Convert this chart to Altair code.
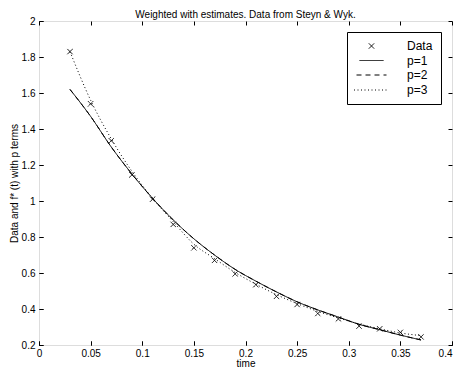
import altair as alt
import pandas as pd

t = [0.03, 0.05, 0.07, 0.09, 0.11, 0.13, 0.15, 0.17, 0.19, 0.21, 0.23, 0.25, 0.27, 0.29, 0.31, 0.33, 0.35, 0.37]
data_y = [1.83, 1.54, 1.335, 1.145, 1.01, 0.87, 0.74, 0.67, 0.595, 0.535, 0.47, 0.425, 0.375, 0.345, 0.305, 0.29, 0.27, 0.245]
p1 = [1.62, 1.47, 1.30, 1.15, 1.015, 0.895, 0.79, 0.70, 0.62, 0.555, 0.495, 0.44, 0.395, 0.355, 0.315, 0.285, 0.255, 0.228]
p2 = p1
p3 = [1.83, 1.56, 1.345, 1.165, 1.015, 0.885, 0.76, 0.68, 0.603, 0.538, 0.48, 0.43, 0.387, 0.35, 0.317, 0.29, 0.267, 0.252]

series_names = ["Data", "p=1", "p=2", "p=3"]
x_ticks = [0, 0.05, 0.1, 0.15, 0.2, 0.25, 0.3, 0.35, 0.4]
y_ticks = [0.2, 0.4, 0.6, 0.8, 1.0, 1.2, 1.4, 1.6, 1.8, 2.0]

rows = []
for name, vals in zip(series_names, [data_y, p1, p2, p3]):
    for ti, v in zip(t, vals):
        rows.append({"t": ti, "v": v, "series": name})
df = pd.DataFrame(rows)

W, H = 413, 324
FONT = "Liberation Sans"

xscale = alt.Scale(domain=[0, 0.4], nice=False, zero=False)
yscale = alt.Scale(domain=[0.2, 2.0], nice=False, zero=False)

dash_scale = alt.Scale(domain=series_names, range=[[1, 0], [1, 0], [5, 4], [1, 2.5]])
shape_scale = alt.Scale(domain=series_names,
                        range=["M-1,-1L1,1M-1,1L1,-1", "M-3,0L3,0", "M-3,0L3,0", "M-3,0L3,0"])
size_scale = alt.Scale(domain=series_names, range=[28, 136, 136, 136])

legend = alt.Legend(
    title=None, orient="none", legendX=308, legendY=11,
    strokeColor="black", fillColor="white", padding=8,
    labelFontSize=12, labelFont=FONT, labelColor="black", labelOffset=29,
    symbolOffset=10, rowPadding=2.5,
    symbolStrokeColor="black", symbolStrokeWidth=1,
    symbolFillColor="transparent", cornerRadius=0,
)

def x_axis(kind):
    if kind == "main":
        return alt.Axis(orient="bottom", values=x_ticks, format="~g", ticks=False, domain=False,
                        grid=False, labelPadding=3, labelFontSize=10, labelFont=FONT,
                        labelColor="black", title="time", titleFontSize=10, titleFont=FONT,
                        titleFontWeight="normal", titleColor="black", titlePadding=0,
                        labelFlush=False,
                        labelAlign={"expr": "datum.value >= 0.4 ? 'right' : 'center'"})
    if kind == "up":
        return alt.Axis(orient="top", offset=-H, values=x_ticks, labels=False, domain=False,
                        grid=False, tickSize=4, tickColor="black", title=None)
    return alt.Axis(orient="bottom", offset=-H, values=x_ticks, labels=False, domain=False,
                    grid=False, tickSize=4, tickColor="black", title=None)

def y_axis(kind):
    if kind == "main":
        return alt.Axis(orient="left", values=y_ticks, format="~g", ticks=False, domain=False,
                        grid=False, labelPadding=4, labelFontSize=10, labelFont=FONT,
                        labelColor="black", title="Data and f* (t) with p terms",
                        titleFontSize=10, titleFont=FONT, titleFontWeight="normal",
                        titleColor="black", titlePadding=2, labelFlush=False)
    if kind == "right":
        return alt.Axis(orient="right", offset=-W, values=y_ticks, labels=False, domain=False,
                        grid=False, tickSize=4, tickColor="black", title=None)
    return alt.Axis(orient="left", offset=-W, values=y_ticks, labels=False, domain=False,
                    grid=False, tickSize=4, tickColor="black", title=None)

base = alt.Chart(df)

def line_layer(name, xk, yk):
    return base.transform_filter(alt.datum.series == name).mark_line(
        color="black", strokeWidth=1, interpolate="monotone"
    ).encode(
        x=alt.X("t:Q", scale=xscale, axis=x_axis(xk)),
        y=alt.Y("v:Q", scale=yscale, axis=y_axis(yk)),
        strokeDash=alt.StrokeDash("series:N", scale=dash_scale, legend=legend),
    )

l2 = line_layer("p=2", "up", "right")
l1 = line_layer("p=1", "down", "leftin")
l3 = line_layer("p=3", "up", "right")

pts = base.transform_filter(alt.datum.series == "Data").mark_point(
    color="black", filled=False, strokeWidth=1, opacity=1
).encode(
    x=alt.X("t:Q", scale=xscale, axis=x_axis("main")),
    y=alt.Y("v:Q", scale=yscale, axis=y_axis("main")),
    shape=alt.Shape("series:N", scale=shape_scale, legend=legend),
    size=alt.Size("series:N", scale=size_scale, legend=legend),
    strokeDash=alt.StrokeDash("series:N", scale=dash_scale, legend=legend),
)

chart = alt.layer(l2, l1, l3, pts).resolve_scale(
    x="shared", y="shared"
).resolve_axis(
    x="independent", y="independent"
).properties(
    width=W, height=H,
    title=alt.TitleParams("Weighted with estimates. Data from Steyn & Wyk.",
                          fontSize=10, font=FONT, fontWeight="normal", color="black", offset=-4),
    padding={"left": 31, "top": 13, "right": 2, "bottom": 23},
    autosize=alt.AutoSizeParams(type="none"),
).configure_view(stroke="black", strokeWidth=1).configure(background="white")

chart.save("out.html", embed_options={"renderer": "svg", "actions": False})
